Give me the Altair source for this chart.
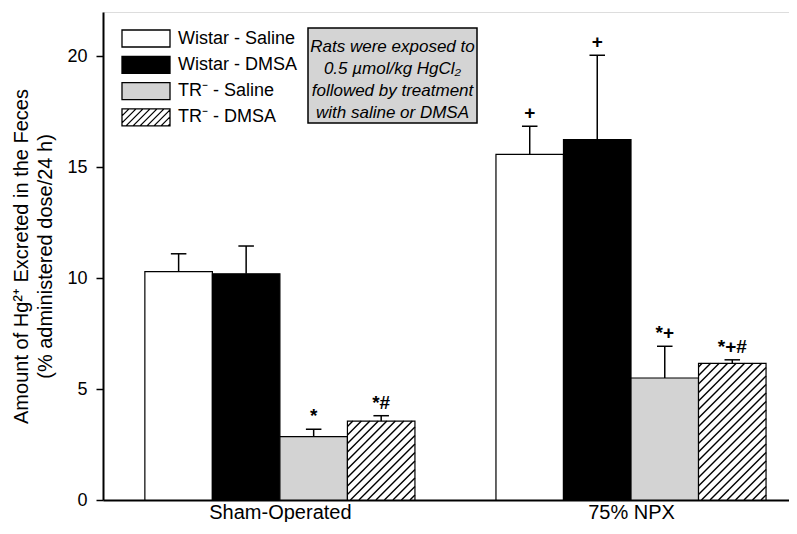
import altair as alt
import pandas as pd
import numpy as np

# ---------------- data ----------------
groups = ["Sham-Operated", "75% NPX"]
series = ["Wistar - Saline", "Wistar - DMSA", "TR⁻ - Saline", "TR⁻ - DMSA"]
sham_mean = [10.3, 10.2, 2.86, 3.56]
sham_err = [0.8, 1.25, 0.33, 0.24]
npx_mean = [15.58, 16.25, 5.5, 6.16]
npx_err = [1.27, 3.8, 1.43, 0.16]
sham_sig = ["", "", "*", "*#"]
npx_sig = ["+", "+", "*+", "*+#"]
note_lines = ["Rats were exposed to", "0.5 µmol/kg HgCl₂",
              "followed by treatment", "with saline or DMSA"]
y_ticks = [0, 5, 10, 15, 20]
fills = ["white", "black", "#d3d3d3", "white"]

# ---------------- layout ----------------
W, H = 686, 488
GROUP_STEP = 5.2          # bar widths between group starts
X_DOMAIN = [-0.62, 9.54]
Y_DOMAIN = [0, 22]
CAP = 0.115               # half cap width (bar widths)
HATCH = 8.5               # hatch spacing, px

px_x = W / (X_DOMAIN[1] - X_DOMAIN[0])
px_y = H / (Y_DOMAIN[1] - Y_DOMAIN[0])

rows = []
for gi, (g, means, errs, sigs) in enumerate(
        zip(groups, [sham_mean, npx_mean], [sham_err, npx_err], [sham_sig, npx_sig])):
    for si, s in enumerate(series):
        x0 = gi * GROUP_STEP + si
        rows.append(dict(group=g, series=s, x0=x0, x1=x0 + 1, xc=x0 + 0.5,
                         cl=x0 + 0.5 - CAP, cr=x0 + 0.5 + CAP,
                         mean=means[si], top=means[si] + errs[si], sig=sigs[si]))
df = pd.DataFrame(rows)

# hatch lines for the hatched series (derived from the bar values)
hrows = []
for r in rows:
    if r["series"] != series[3]:
        continue
    w = px_x
    h = r["mean"] * px_y
    for k in range(int(np.floor(-h / HATCH)) - 1, int(np.ceil(w / HATCH)) + 1):
        c = k * HATCH + 3
        t1 = max(0.0, c)
        t2 = min(w, h + c)
        if t2 - t1 > 0.8:
            hrows.append(dict(hx=r["x0"] + t1 / px_x, hy=(t1 - c) / px_y,
                              hx2=r["x0"] + t2 / px_x, hy2=(t2 - c) / px_y))
hdf = pd.DataFrame(hrows)

# legend symbol shapes: 48 x 17 px boxes drawn with a 17 px symbol size
SYM_H = 17.0
AX = 48.0 / SYM_H          # half-width in symbol units
RECT = f"M-{AX:.3f},-1H{AX:.3f}V1H-{AX:.3f}Z"
hatch_path = RECT
step = 7.0 / (SYM_H / 2)
c = -AX - 2
while c < AX:
    ta = max(0.0, (-AX - c) / 2)
    tb = min(1.0, (AX - c) / 2)
    if tb - ta > 0.02:
        xa, ya = c + 2 * ta, 1 - 2 * ta
        xb, yb = c + 2 * tb, 1 - 2 * tb
        hatch_path += f"M{xa:.3f},{ya:.3f}L{xb:.3f},{yb:.3f}"
    c += step
shape_expr = f"datum.value === '{series[3]}' ? '{hatch_path}' : '{RECT}'"

FONT = "Liberation Sans"

xscale = alt.Scale(domain=X_DOMAIN, nice=False, zero=False)
yscale = alt.Scale(domain=Y_DOMAIN, nice=False)

label_expr = " : ".join(
    [f"datum.value < {(gi + 1) * GROUP_STEP - 0.6} ? '{g}'" for gi, g in enumerate(groups[:-1])]
    + [f"'{groups[-1]}'"])

x_axis = alt.Axis(values=[gi * GROUP_STEP + 2 for gi in range(len(groups))],
                  labelExpr=label_expr, ticks=False, title=None, grid=False,
                  domainColor="black", domainWidth=2, labelFont=FONT,
                  labelFontSize=20, labelColor="black", labelPadding=2)
y_axis = alt.Axis(values=y_ticks, grid=False, tickSize=7, tickColor="black",
                  tickWidth=1.5, domainColor="black", domainWidth=2,
                  labelFont=FONT, labelFontSize=18, labelColor="black",
                  labelPadding=9,
                  title=["Amount of Hg²⁺ Excreted in the Feces",
                         "(% administered dose/24 h)"],
                  titleFont=FONT, titleFontSize=20, titleFontWeight="normal",
                  titleColor="black", titlePadding=11, titleLineHeight=24)

base = alt.Chart(df)

bars = base.mark_bar(stroke="black", strokeWidth=1.2).encode(
    x=alt.X("x0:Q", scale=xscale, axis=x_axis),
    x2="x1:Q",
    y=alt.Y("mean:Q", scale=yscale, axis=y_axis),
    y2=alt.datum(0),
    fill=alt.Fill("series:N",
                  scale=alt.Scale(domain=series, range=fills),
                  legend=alt.Legend(title=None, orient="none", legendX=33.5, legendY=17,
                                    symbolType={"expr": shape_expr},
                                    symbolSize=SYM_H ** 2, symbolStrokeColor="black",
                                    symbolStrokeWidth=1.3, labelFont=FONT,
                                    labelFontSize=18, labelColor="black",
                                    labelOffset=22.5, rowPadding=3.3, padding=0,
                                    labelLimit=300)),
)

hatch = alt.Chart(hdf).mark_rule(color="black", strokeWidth=1.4).encode(
    x=alt.X("hx:Q", scale=xscale), x2="hx2:Q",
    y=alt.Y("hy:Q", scale=yscale), y2="hy2:Q")

err_v = base.mark_rule(color="black", strokeWidth=1.5).encode(
    x=alt.X("xc:Q", scale=xscale), y=alt.Y("mean:Q", scale=yscale), y2="top:Q")
err_cap = base.mark_rule(color="black", strokeWidth=1.5).encode(
    x=alt.X("cl:Q", scale=xscale), x2="cr:Q", y=alt.Y("top:Q", scale=yscale))

sig = base.mark_text(baseline="bottom", dy=-3, font=FONT, fontSize=19,
                     fontWeight="bold", color="black").encode(
    x=alt.X("xc:Q", scale=xscale), y=alt.Y("top:Q", scale=yscale), text="sig:N")

note_df = pd.DataFrame({"k": [0]})
note_box = alt.Chart(note_df).mark_rect(fill="#d4d4d4", stroke="black",
                                        strokeWidth=1.5).encode(
    x=alt.value(205), x2=alt.value(374), y=alt.value(16), y2=alt.value(111))
note_text = alt.Chart(note_df).mark_text(
    text=note_lines, font=FONT, fontSize=17, fontStyle="italic", color="black",
    align="center", baseline="middle", lineHeight=22).encode(
    x=alt.value(289.5), y=alt.value(35))

chart = alt.layer(bars, hatch, err_v, err_cap, sig, note_box, note_text).properties(
    width=W, height=H,
    autosize=alt.AutoSizeParams(type="none"),
    padding={"left": 95, "top": 4, "right": 0, "bottom": 22},
).configure_view(stroke=None).configure(background="white")

chart.save("out.html", embed_options={"renderer": "svg", "actions": False})
